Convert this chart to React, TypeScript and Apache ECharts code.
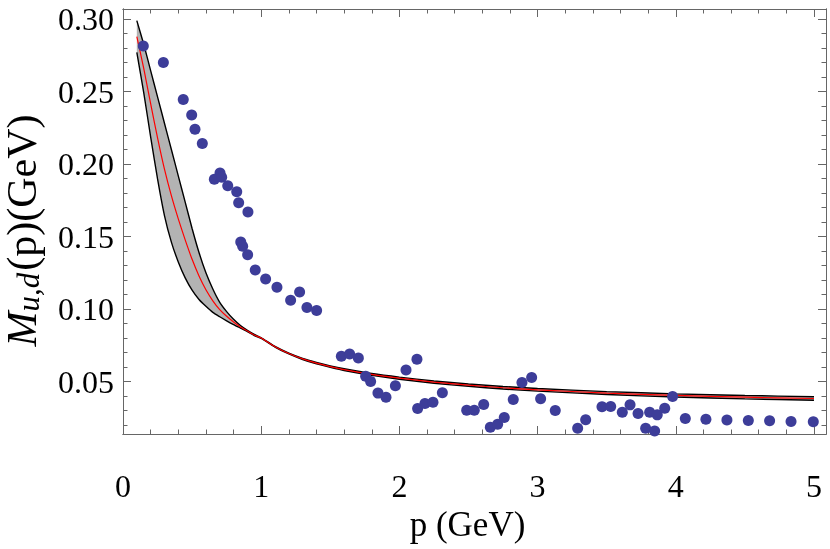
import React, { useEffect, useRef } from "react";
import * as echarts from "echarts";

// ---- data ----
const bandX = [0.1, 0.15, 0.2, 0.25, 0.3, 0.35, 0.4, 0.45, 0.5, 0.55, 0.6, 0.65, 0.7, 0.75, 0.8, 0.85, 0.9, 0.95, 1.0,
  1.1, 1.2, 1.3, 1.4, 1.5, 1.6, 1.8, 2.0, 2.25, 2.5, 2.75, 3.0, 3.5, 4.0, 4.5, 5.0];
const upperY = [0.299, 0.2827, 0.2645, 0.2464, 0.2282, 0.2101, 0.1919, 0.1738, 0.1556, 0.139, 0.125, 0.1138, 0.1046, 0.0982, 0.0929, 0.0886, 0.0853, 0.0825, 0.0802,
  0.0742, 0.0696, 0.066, 0.0632, 0.0608, 0.0588, 0.0555, 0.053, 0.0504, 0.0483, 0.0466, 0.0452, 0.043, 0.0415, 0.0404, 0.0395];
const lowerY = [0.277, 0.2493, 0.2188, 0.1898, 0.1645, 0.1462, 0.1325, 0.1215, 0.113, 0.1066, 0.1019, 0.0977, 0.0947, 0.0919, 0.0893, 0.0869, 0.0845, 0.0817, 0.0798,
  0.0738, 0.069, 0.0652, 0.0622, 0.0598, 0.0576, 0.0543, 0.0516, 0.0488, 0.0467, 0.0448, 0.0434, 0.041, 0.0393, 0.038, 0.0371];
const centerY = [0.288, 0.266, 0.2417, 0.2181, 0.1965, 0.1782, 0.1622, 0.1477, 0.1343, 0.1228, 0.1133, 0.1057, 0.0996, 0.095, 0.0911, 0.0877, 0.0849, 0.0821, 0.08,
  0.074, 0.0693, 0.0656, 0.0627, 0.0603, 0.0582, 0.0549, 0.0523, 0.0496, 0.0475, 0.0457, 0.0443, 0.042, 0.0404, 0.0392, 0.0383];

const pointsX = [0.147, 0.292, 0.436, 0.497, 0.521, 0.574, 0.702, 0.661, 0.714, 0.758, 0.823, 0.837, 0.904,
  0.852, 0.866, 0.902, 0.957, 1.032, 1.114, 1.213, 1.278, 1.331, 1.401,
  1.58, 1.64, 1.703, 1.756, 1.792, 1.845, 1.903, 1.971, 2.048, 2.127, 2.132, 2.185, 2.243, 2.311,
  2.487, 2.542, 2.61, 2.658, 2.711, 2.759, 2.824, 2.887, 2.957, 3.022, 3.128, 3.29,
  3.348, 3.466, 3.529, 3.613, 3.669, 3.727, 3.782, 3.811, 3.847, 3.866, 3.92, 3.977,
  4.069, 4.218, 4.37, 4.525, 4.679, 4.834, 4.995];
const pointsY = [0.2814, 0.2701, 0.2445, 0.2338, 0.2241, 0.2142, 0.1939, 0.1895, 0.1909, 0.1851, 0.181, 0.1733, 0.1669,
  0.1463, 0.1434, 0.1375, 0.127, 0.1207, 0.115, 0.106, 0.1117, 0.1011, 0.099,
  0.0674, 0.069, 0.0662, 0.0537, 0.0501, 0.042, 0.0392, 0.0471, 0.0579, 0.0653, 0.0314, 0.0348, 0.0357, 0.0423,
  0.0302, 0.0302, 0.0341, 0.0184, 0.0205, 0.0252, 0.0376, 0.0494, 0.0528, 0.0381, 0.03, 0.0177,
  0.0236, 0.0326, 0.0328, 0.0288, 0.0339, 0.0279, 0.0177, 0.0288, 0.0159, 0.027, 0.0316, 0.0397,
  0.0245, 0.024, 0.0235, 0.0231, 0.0229, 0.0224, 0.0222];

const xMajorTicks = [0, 1, 2, 3, 4, 5];
const xMinorTicks = [0.2, 0.4, 0.6, 0.8, 1.2, 1.4, 1.6, 1.8, 2.2, 2.4, 2.6, 2.8, 3.2, 3.4, 3.6, 3.8, 4.2, 4.4, 4.6, 4.8];
const yMajorTicks = [0.05, 0.1, 0.15, 0.2, 0.25, 0.3];
const yMinorTicks = [0.02, 0.03, 0.04, 0.06, 0.07, 0.08, 0.09, 0.11, 0.12, 0.13, 0.14, 0.16, 0.17, 0.18, 0.19,
  0.21, 0.22, 0.23, 0.24, 0.26, 0.27, 0.28, 0.29];

const xTitle = "p (GeV)";
const yTitleMain = "M";
const yTitleSub = "u,d";
const yTitleRest = "(p)(GeV)";

const FONT = "'Liberation Serif', 'Times New Roman', serif";
const FRAME = "#666666";

function makeAxis(kind: "x" | "y", position: string, ticks: number[], length: number, labels: boolean, extra: any = {}) {
  const isX = kind === "x";
  return {
    type: "value",
    position,
    min: isX ? 0 : 0.0138,
    max: isX ? 5.087 : 0.307,
    axisLine: { show: true, onZero: false, lineStyle: { color: FRAME, width: 1 } },
    axisTick: { show: true, inside: true, length, customValues: ticks, lineStyle: { color: FRAME, width: 1 } },
    axisLabel: labels
      ? {
          show: true,
          customValues: ticks,
          margin: isX ? 36 : 9,
          fontSize: 32,
          fontFamily: FONT,
          color: "#000",
          formatter: (v: number) => (isX ? String(Math.round(v)) : v.toFixed(2)),
        }
      : { show: false },
    splitLine: { show: false },
    ...extra,
  };
}

export default function App() {
  const ref = useRef<HTMLDivElement>(null);
  useEffect(() => {
    if (!ref.current) return;
    const chart = echarts.init(ref.current, undefined, { renderer: "svg" });
    const band = bandX.map((x, i) => [x, upperY[i], lowerY[i]]);
    const option: any = {
      animation: false,
      grid: { left: 123, right: 4, top: 9, bottom: 115, containLabel: false, outerBoundsMode: "none" },
      xAxis: [
        makeAxis("x", "bottom", xMajorTicks, 8, true, {
          name: xTitle,
          nameLocation: "middle",
          nameGap: 63,
          nameTextStyle: { fontSize: 35, fontFamily: FONT, color: "#000", padding: [0, 14, 0, 0] },
        }),
        makeAxis("x", "bottom", xMinorTicks, 4.5, false),
        makeAxis("x", "top", xMajorTicks, 8, false),
        makeAxis("x", "top", xMinorTicks, 4.5, false),
      ],
      yAxis: [
        makeAxis("y", "left", yMajorTicks, 8, true, {
          name: `{m|${yTitleMain}}{s|${yTitleSub}}{n|${yTitleRest}}`,
          nameLocation: "middle",
          nameRotate: 90,
          nameGap: 79,
          nameTextStyle: {
            fontSize: 42,
            fontFamily: FONT,
            color: "#000",
            padding: [0, 18, 0, 0],
            rich: {
              m: { fontSize: 42, fontFamily: FONT, fontStyle: "italic", color: "#000", lineHeight: 44 },
              s: { fontSize: 31, fontFamily: FONT, fontStyle: "italic", color: "#000", lineHeight: 18, verticalAlign: "bottom", padding: [0, 2, 0, 0] },
              n: { fontSize: 42, fontFamily: FONT, color: "#000", lineHeight: 44 },
            },
          },
        }),
        makeAxis("y", "left", yMinorTicks, 4.5, false),
        makeAxis("y", "right", yMajorTicks, 8, false),
        makeAxis("y", "right", yMinorTicks, 4.5, false),
      ],
      series: [
        {
          type: "custom",
          name: "band",
          xAxisIndex: 0,
          yAxisIndex: 0,
          data: [0],
          z: 1,
          renderItem: (_params: any, api: any) => {
            const top = band.map((d) => api.coord([d[0], d[1]]));
            const bottom = band.map((d) => api.coord([d[0], d[2]])).reverse();
            return {
              type: "polygon",
              shape: { points: top.concat(bottom) },
              style: { fill: "#b3b3b3", stroke: "none" },
            };
          },
        },
        {
          type: "line",
          name: "upper",
          data: bandX.map((x, i) => [x, upperY[i]]),
          showSymbol: false,
          symbol: "none",
          smooth: 0.2,
          lineStyle: { color: "#000", width: 1.4 },
          z: 2,
        },
        {
          type: "line",
          name: "lower",
          data: bandX.map((x, i) => [x, lowerY[i]]),
          showSymbol: false,
          symbol: "none",
          smooth: 0.2,
          lineStyle: { color: "#000", width: 1.4 },
          z: 2,
        },
        {
          type: "line",
          name: "center",
          data: bandX.map((x, i) => [x, centerY[i]]),
          showSymbol: false,
          symbol: "none",
          smooth: 0.2,
          lineStyle: { color: "#ff0000", width: 1.2 },
          z: 3,
        },
        {
          type: "scatter",
          name: "data",
          data: pointsX.map((x, i) => [x, pointsY[i]]),
          symbol: "circle",
          symbolSize: 11,
          itemStyle: { color: "#3d3d99", opacity: 1 },
          z: 4,
        },
      ],
    };
    chart.setOption(option);
    return () => chart.dispose();
  }, []);
  return <div ref={ref} style={{ position: "fixed", left: 0, top: 0, width: 830, height: 549 }} />;
}
